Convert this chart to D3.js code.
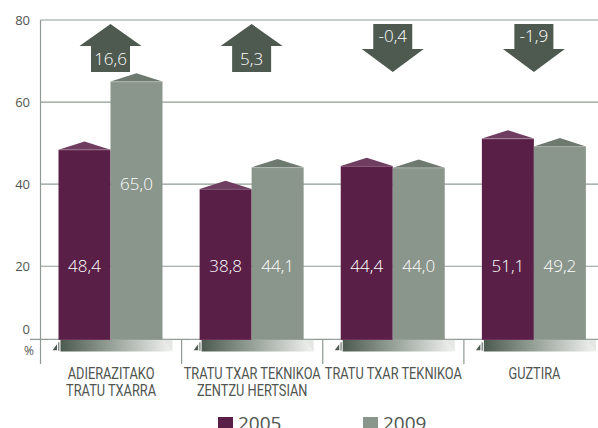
<!DOCTYPE html>
<html>
<head>
<meta charset="utf-8">
<script src="https://cdn.jsdelivr.net/npm/d3@7/dist/d3.min.js"></script>
<style>
  html, body { margin: 0; padding: 0; background: #fff; }
  svg { display: block; }
</style>
</head>
<body>
<svg id="chart" width="598" height="428"></svg>
<script>
// Category labels (one entry per line)
const categories = [
  ["ADIERAZITAKO", "TRATU TXARRA"],
  ["TRATU TXAR TEKNIKOA", "ZENTZU HERTSIAN"],
  ["TRATU TXAR TEKNIKOA"],
  ["GUZTIRA"]
];
const years = ["2005", "2009"];
const values2005 = [48.4, 38.8, 44.4, 51.1];
const values2009 = [65.0, 44.1, 44.0, 49.2];
const changes = [16.6, 5.3, -0.4, -1.9];
const yTicks = [0, 20, 40, 60, 80];

const fmt = v => d3.format(".1f")(v).replace(".", ",").replace("\u2212", "-");

const colors = {
  "2005": "#5a1f47",
  "2009": "#8a958b",
  cap2005: "#6f3d60",
  cap2009: "#6e7a70",
  arrow: "#4e5a50",
  grid: "#8f9b92",
  text: "#50554f"
};

const svg = d3.select("#chart");
const axisX = 40.5;
const right = 605;

const y = d3.scaleLinear().domain([0, 80]).range([348.3, 20]);
const baseY = y(0) - 9;   // top of the base band

const x = d3.scaleBand().domain(d3.range(categories.length)).range([axisX, right]).paddingInner(0);
const inner = d3.scaleBand().domain(years).range([18, 122]);

// gridlines
svg.append("g").selectAll("line")
  .data(yTicks.filter(t => t > 0))
  .join("line")
  .attr("x1", axisX).attr("x2", 598)
  .attr("y1", d => y(d)).attr("y2", d => y(d))
  .attr("stroke", colors.grid).attr("stroke-width", 1.2);

// baseline
svg.append("line")
  .attr("x1", 30).attr("x2", 598)
  .attr("y1", baseY).attr("y2", baseY)
  .attr("stroke", colors.grid).attr("stroke-width", 1.2);

// y axis tick labels
svg.append("g").selectAll("text")
  .data(yTicks)
  .join("text")
  .attr("x", 30)
  .attr("y", d => d === 0 ? baseY - 10 : y(d))
  .attr("dy", "0.35em")
  .attr("text-anchor", "end")
  .attr("font-family", "Open Sans, sans-serif")
  .attr("font-size", 13)
  .attr("fill", colors.text)
  .text(d => d);

svg.append("text")
  .attr("x", 29).attr("y", baseY + 11).attr("dy", "0.35em")
  .attr("text-anchor", "middle")
  .attr("font-family", "Open Sans, sans-serif")
  .attr("font-size", 12)
  .attr("fill", colors.text)
  .text("%");

// bars
const rows = categories.map((c, i) => ({ i, v: { "2005": values2005[i], "2009": values2009[i] } }));
const groups = svg.append("g").selectAll("g")
  .data(rows).join("g")
  .attr("transform", d => `translate(${x(d.i)},0)`);

years.forEach(yr => {
  const bw = inner.bandwidth();
  groups.append("rect")
    .attr("x", inner(yr)).attr("width", bw)
    .attr("y", d => y(d.v[yr]))
    .attr("height", d => y(0) - y(d.v[yr]))
    .attr("fill", colors[yr]);
  groups.append("path")
    .attr("d", d => {
      const x0 = inner(yr), top = y(d.v[yr]);
      return `M${x0},${top} L${x0 + bw / 2},${top - 8.3} L${x0 + bw},${top} Z`;
    })
    .attr("fill", colors["cap" + yr]);
  groups.append("line")
    .attr("x1", inner(yr)).attr("x2", inner(yr) + bw)
    .attr("y1", d => y(d.v[yr]) + 0.3).attr("y2", d => y(d.v[yr]) + 0.3)
    .attr("stroke", "#ffffff").attr("stroke-opacity", 0.25).attr("stroke-width", 0.8);
  groups.append("text")
    .attr("x", inner(yr) + bw / 2)
    .attr("y", d => y(Math.max(20, Math.floor(d.v[yr] / 20) * 20 - 20)))
    .attr("dy", "0.36em")
    .attr("text-anchor", "middle")
    .attr("font-family", "Open Sans, sans-serif")
    .attr("font-weight", 300)
    .attr("font-size", 17)
    .attr("fill", "#ffffff")
    .text(d => fmt(d.v[yr]));
});

// base band with gradient
const defs = svg.append("defs");
const grad = defs.append("linearGradient").attr("id", "band")
  .attr("x1", "0%").attr("x2", "100%");
grad.append("stop").attr("offset", "0%").attr("stop-color", "#4c5a4f");
grad.append("stop").attr("offset", "40%").attr("stop-color", "#8e998f");
grad.append("stop").attr("offset", "100%").attr("stop-color", "#f2f3f1");

const bandH = 11.5;
groups.append("rect")
  .attr("x", inner("2005") - 10).attr("width", 124)
  .attr("y", baseY + 0.6).attr("height", bandH)
  .attr("fill", "#ffffff");
groups.append("path")
  .attr("d", () => {
    const x0 = inner("2005") + 2, x1 = inner("2009") + inner.bandwidth();
    return `M${x0},${baseY + 0.6} L${x1},${baseY + 0.6} L${x1 + 10},${baseY + 0.6 + bandH} L${x0},${baseY + 0.6 + bandH} Z`;
  })
  .attr("fill", "url(#band)");
groups.append("path")
  .attr("d", () => {
    const x1 = inner("2009") + inner.bandwidth();
    return `M${x1},${baseY + 0.6} L${x1 + 10},${baseY + 0.6 + bandH} L${x1 + 10},${baseY + 0.6} Z`;
  })
  .attr("fill", "#e4e7e4");
// small ramp marks at the band start
groups.append("path")
  .attr("d", () => {
    const x0 = inner("2005");
    return `M${x0 - 6},${baseY + 11} L${x0 - 1.5},${baseY + 5} L${x0 - 1.5},${baseY + 11} Z`;
  })
  .attr("fill", "#4c5a4f");
groups.append("rect")
  .attr("x", inner("2005") - 0.2).attr("width", 1)
  .attr("y", baseY + 3).attr("height", 8.5)
  .attr("fill", "#4c5a4f");

// y axis line and category separators
svg.append("line")
  .attr("x1", axisX).attr("x2", axisX)
  .attr("y1", y(80)).attr("y2", 364)
  .attr("stroke", colors.grid).attr("stroke-width", 1.2);
svg.append("g").selectAll("line")
  .data(d3.range(1, categories.length))
  .join("line")
  .attr("x1", d => x(d)).attr("x2", d => x(d))
  .attr("y1", baseY).attr("y2", 364)
  .attr("stroke", colors.grid).attr("stroke-width", 1.2);

// category labels, horizontally condensed
groups.append("g")
  .attr("transform", `translate(${x.bandwidth() / 2},379) scale(0.8,1)`)
  .append("text")
  .attr("text-anchor", "middle")
  .attr("font-family", "Roboto, sans-serif")
  .attr("font-size", 16)
  .attr("fill", colors.text)
  .selectAll("tspan")
  .data(d => categories[d.i])
  .join("tspan")
  .attr("x", 0)
  .attr("dy", (d, k) => k === 0 ? 0 : 17.5)
  .text(d => d);

// change arrows
const arrowGroup = groups.append("g")
  .attr("transform", `translate(${inner("2009")},0)`);
arrowGroup.append("path")
  .attr("d", d => {
    const up = changes[d.i] >= 0;
    const top = 24, bot = 72, hw = 31, sw = 19.5;
    if (up) {
      const hb = 46;
      return `M0,${top} L${hw},${hb} L${sw},${hb} L${sw},${bot} L${-sw},${bot} L${-sw},${hb} L${-hw},${hb} Z`;
    }
    const hb = 49;
    return `M${-sw},${top} L${sw},${top} L${sw},${hb} L${hw},${hb} L0,${bot} L${-hw},${hb} L${-sw},${hb} Z`;
  })
  .attr("fill", colors.arrow);
arrowGroup.append("text")
  .attr("x", 0)
  .attr("y", d => changes[d.i] >= 0 ? 59 : 36)
  .attr("dy", "0.36em")
  .attr("text-anchor", "middle")
  .attr("font-family", "Open Sans, sans-serif")
  .attr("font-weight", 300)
  .attr("font-size", 17)
  .attr("fill", "#ffffff")
  .text(d => fmt(changes[d.i]));

// legend
const legend = svg.append("g").selectAll("g")
  .data(years).join("g")
  .attr("transform", (d, k) => `translate(${218 + k * 145},417)`);
legend.append("rect")
  .attr("width", 15).attr("height", 15)
  .attr("fill", d => colors[d]);
legend.append("text")
  .attr("x", 20).attr("y", 13)
  .attr("font-family", "Open Sans, sans-serif")
  .attr("font-size", 19)
  .attr("fill", colors.text)
  .text(d => d);
</script>
</body>
</html>
